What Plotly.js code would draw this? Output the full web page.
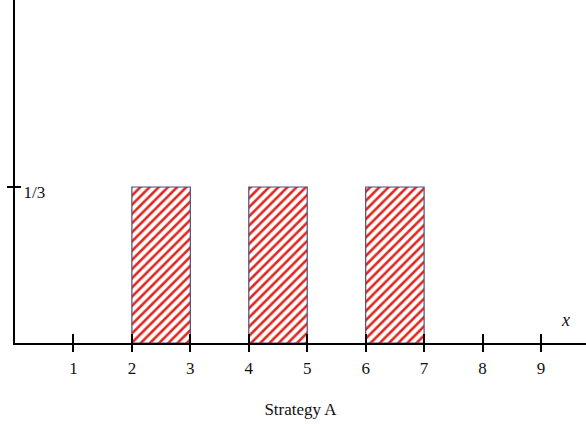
<!DOCTYPE html>
<html>
<head>
<meta charset="utf-8">
<script src="https://cdn.plot.ly/plotly-3.0.1.min.js"></script>
<style>
  html, body { margin: 0; padding: 0; background: #fff; }
  #chart { width: 586px; height: 424px; }
</style>
</head>
<body>
<div id="chart"></div>
<script>
// Strategy A: uniform on three unit intervals
const intervalStarts = [2, 4, 6];
const intervalWidth = [1, 1, 1];
const density = [1 / 3, 1 / 3, 1 / 3];
const xTicks = [1, 2, 3, 4, 5, 6, 7, 8, 9];
const yTicks = [1 / 3];
const yTickText = ['1/3'];

const centers = intervalStarts.map((s, i) => s + intervalWidth[i] / 2);

const bars = {
    type: 'bar',
    x: centers,
    y: density,
    width: intervalWidth,
    marker: {
        color: 'white',
        line: { color: '#4b4f7c', width: 1.2 },
        pattern: { shape: '/', fgcolor: '#e0261f', bgcolor: 'white', size: 6.5, solidity: 0.4 }
    },
    hoverinfo: 'skip',
    showlegend: false
};

// invisible trace so the second pair of axes gets drawn (ticks crossing the lines)
const ghost = {
    type: 'scatter', x: [0], y: [0], xaxis: 'x2', yaxis: 'y2',
    mode: 'markers', marker: { opacity: 0 }, hoverinfo: 'skip', showlegend: false
};

const font = { family: 'Liberation Serif, Times New Roman, serif', size: 17, color: '#111' };
const xRange = [0, 9.77];
const yRange = [0, 0.733];

const layout = {
    width: 586,
    height: 424,
    margin: { l: 14.5, r: 0, t: 0, b: 81 },
    paper_bgcolor: 'white',
    plot_bgcolor: 'white',
    font: font,
    showlegend: false,
    xaxis: {
        range: xRange,
        tickvals: xTicks,
        ticks: 'outside', ticklen: 7, tickwidth: 2, tickcolor: '#000',
        ticklabelstandoff: 2,
        showline: true, linecolor: '#000', linewidth: 2,
        showgrid: false, zeroline: false,
        tickfont: font,
        title: { text: 'Strategy A', font: font, standoff: 26 }
    },
    yaxis: {
        range: yRange,
        tickvals: yTicks, ticktext: yTickText,
        ticks: 'outside', ticklen: 6, tickwidth: 2, tickcolor: '#000',
        ticklabelposition: 'inside', ticklabelstandoff: 9, ticklabelshift: 5,
        showline: true, linecolor: '#000', linewidth: 2,
        showgrid: false, zeroline: false,
        tickfont: font
    },
    xaxis2: {
        range: xRange, overlaying: 'x', tickvals: xTicks, showticklabels: false,
        ticks: 'inside', ticklen: 9, tickwidth: 2, tickcolor: '#000',
        showgrid: false, zeroline: false, showline: false
    },
    yaxis2: {
        range: yRange, overlaying: 'y', tickvals: yTicks, showticklabels: false,
        ticks: 'inside', ticklen: 6, tickwidth: 2, tickcolor: '#000',
        showgrid: false, zeroline: false, showline: false
    },
    annotations: [{
        text: '<i>x</i>', x: 9.42, y: 0.05, xref: 'x', yref: 'y',
        showarrow: false, font: { family: 'Liberation Serif, serif', size: 18, color: '#111' }
    }]
};

Plotly.newPlot('chart', [bars, ghost], layout, { staticPlot: true });
</script>
</body>
</html>
